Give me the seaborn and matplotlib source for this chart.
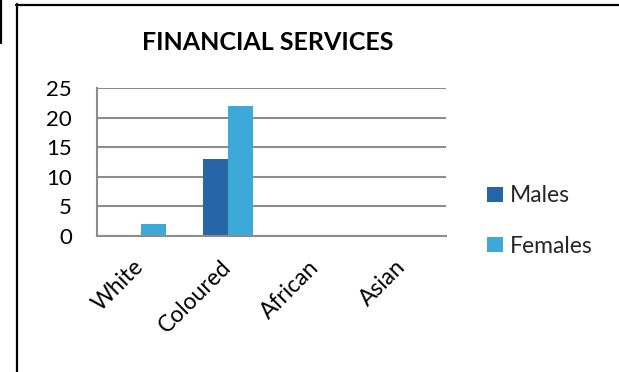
import matplotlib
matplotlib.use("Agg")
import matplotlib.pyplot as plt
from matplotlib.lines import Line2D
import seaborn as sns
import pandas as pd

# Employment counts by population group, financial services sector
groups = ["White", "Coloured", "African", "Asian"]
males = [0, 13, 0, 0]
females = [2, 22, 0, 0]
series_names = ["Males", "Females"]
y_ticks = [0, 5, 10, 15, 20, 25]

colors = {"Males": "#2666A6", "Females": "#3DA9D8"}

df = pd.DataFrame({
    "group": groups * 2,
    "sex": [series_names[0]] * len(groups) + [series_names[1]] * len(groups),
    "count": males + females,
})

sns.set_theme(style="white")
plt.rcParams["font.family"] = ["Lato", "DejaVu Sans"]

fig = plt.figure(figsize=(6.19, 3.72), dpi=100)
W, H = 619, 372
ax = fig.add_axes([97 / W, 136 / H, 349 / W, 148 / H])

sns.barplot(data=df, x="group", y="count", hue="sex", order=groups,
            hue_order=series_names, palette=colors, width=0.573, gap=0,
            saturation=1, linewidth=0, ax=ax, legend=True)

ax.set_ylim(0, 25)
ax.set_yticks(y_ticks)
ax.set_xlim(-0.5, len(groups) - 0.5)
ax.set_xlabel("")
ax.set_ylabel("")
ax.yaxis.grid(True, color="#8c8c8c", linewidth=1.5)
ax.set_axisbelow(True)
for side in ["top", "right"]:
    ax.spines[side].set_visible(False)
for side in ["left", "bottom"]:
    ax.spines[side].set_color("#8c8c8c")
    ax.spines[side].set_linewidth(1.5)
ax.tick_params(axis="y", length=0, pad=18, labelsize=16, labelcolor="black")
ax.tick_params(axis="x", length=0, pad=20, labelsize=16.5, labelcolor="black")
for lbl in ax.get_xticklabels():
    lbl.set_rotation(45)
    lbl.set_ha("right")
    lbl.set_va("center")
    lbl.set_rotation_mode("anchor")

handles, labels = ax.get_legend_handles_labels()
ax.legend_.remove()
fig.legend(handles, labels, loc="upper left",
           bbox_to_anchor=(476 / W, 1 - 174 / H), frameon=False,
           fontsize=16.5, handlelength=0.68, handleheight=0.68,
           handletextpad=0.3, labelspacing=1.27, borderpad=0)

fig.text(268 / W, 1 - 42 / H, "FINANCIAL SERVICES", ha="center", va="center",
         fontsize=18, fontweight="bold", color="black")

# Frame lines around the chart area
fig.add_artist(Line2D([16.5 / W, 16.5 / W], [0, 1 - 4 / H], color="black",
                      linewidth=1.6, transform=fig.transFigure))
fig.add_artist(Line2D([16 / W, 1], [1 - 4.5 / H, 1 - 4.5 / H], color="black",
                      linewidth=1.6, transform=fig.transFigure))
fig.add_artist(Line2D([1 / W, 1 / W], [1, 1 - 43 / H], color="black",
                      linewidth=1.6, transform=fig.transFigure))

fig.savefig("out.png", dpi=100)
